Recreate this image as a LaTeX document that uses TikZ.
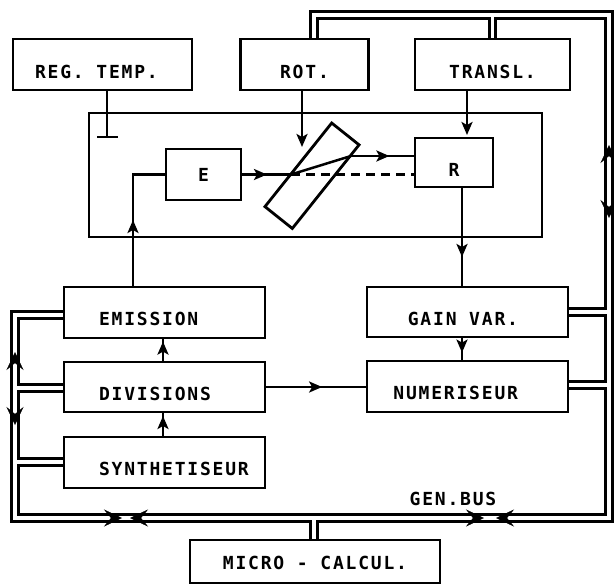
\documentclass[tikz,border=0pt]{standalone}
\usepackage{fontspec}
\newfontfamily\lettering[LetterSpace=10]{DejaVu Sans Mono Bold}
\usetikzlibrary{arrows.meta,backgrounds,decorations.markings}
\tikzset{
  pipehead/.tip={Stealth[length=18pt,width=17pt,inset=7pt]},
  sighead/.tip={Stealth[length=13pt,width=11pt,inset=3pt]},
}
\begin{document}
\begin{tikzpicture}[x=1pt,y=-1pt,
  every node/.style={font=\lettering\fontsize{18}{18}\selectfont, inner sep=0pt, outer sep=0pt},
  blk/.style={draw, line width=2.8pt, fill=white, text height=#1, text depth=0pt},
  blk/.default=26pt,
  sig/.style={line width=2.5pt},
  endarr/.style={-{sighead}},
  midarr/.style={postaction={decorate}, decoration={markings, mark=at position #1 with {\arrow{sighead}}}},
  midarr/.default=0.5,
  pipeout/.style={line width=9.4pt, line join=miter, line cap=butt},
  pipein/.style={line width=3.8pt, white, line join=miter, line cap=butt},
]
\useasboundingbox (0,0) rectangle (614,584);

% ---- top blocks
\node[blk=27pt, minimum width=179pt, minimum height=51pt] (reg) at (102.5,64.5) {\makebox[135pt][l]{REG. TEMP.}};
\node[blk=27pt, minimum width=128pt, minimum height=51pt] (rot) at (304.5,64.5) {ROT.};
\node[blk=27pt, minimum width=155pt, minimum height=51pt] (transl) at (492.5,64.5) {TRANSL.};

% ---- optical bench
\node[draw, line width=2.8pt, minimum width=453pt, minimum height=124pt] (frame) at (315.5,175) {};
\node[blk=13.1pt, minimum width=75pt, minimum height=51pt] (e) at (203.5,174.5) {E};
\node[blk=27pt, minimum width=78pt, minimum height=49pt] (r) at (454,162.5) {R};
\node[draw, line width=2.8pt, minimum width=107pt, minimum height=35pt, rotate=51.4] (plate) at (312,175.75) {};

% ---- lower blocks
\node[blk, minimum width=201pt, minimum height=51pt] (emission) at (164.5,312.5) {\makebox[131pt][l]{EMISSION}};
\node[blk, minimum width=201pt, minimum height=50pt] (div) at (164.5,387) {\makebox[131pt][l]{DIVISIONS}};
\node[blk, minimum width=201pt, minimum height=51pt] (syn) at (164.5,462.5) {\makebox[131pt][l]{SYNTHETISEUR}};
\node[blk, minimum width=201pt, minimum height=50pt] (gain) at (467.5,312) {\makebox[101pt][r]{GAIN VAR.}};
\node[blk, minimum width=201pt, minimum height=51pt] (num) at (467.5,386.5) {\makebox[101pt][r]{NUMERISEUR}};
\node[blk=16pt, minimum width=250pt, minimum height=43pt] (micro) at (315,561.5) {MICRO - CALCUL.};
\node[text height=13.1pt, text depth=0pt] (busname) at (453,499) {GEN.BUS};

% ---- bus network (double lines)
\coordinate (tb1) at (314,15);
\coordinate (tb2) at (609,15);
\coordinate (bb2) at (609,518);
\coordinate (bb1) at (15,518);
\coordinate (lp1) at (15,315);
\coordinate (tbt) at (492.5,15);
\coordinate (rpg) at (609,312);
\coordinate (rpn) at (609,385);
\coordinate (lpd) at (15,388);
\coordinate (lps) at (15,462);
\coordinate (bm) at (314,518);

\begin{scope}[on background layer]
  \draw[pipeout] (tb1 |- rot.north) -- (tb1) -- (tb2) -- (bb2) -- (bb1) -- (lp1) -- (lp1 -| emission.west);
  \draw[pipeout] (tbt) -- (tbt |- transl.north);
  \draw[pipeout] (rpg) -- (rpg -| gain.east);
  \draw[pipeout] (rpn) -- (rpn -| num.east);
  \draw[pipeout] (lpd) -- (lpd -| div.west);
  \draw[pipeout] (lps) -- (lps -| syn.west);
  \draw[pipeout] (bm) -- (bm |- micro.north);
  \draw[pipein] (tb1 |- rot.north) -- (tb1) -- (tb2) -- (bb2) -- (bb1) -- (lp1) -- (lp1 -| emission.west);
  \draw[pipein] (tbt) -- (tbt |- transl.north);
  \draw[pipein] (rpg) -- (rpg -| gain.east);
  \draw[pipein] (rpn) -- (rpn -| num.east);
  \draw[pipein] (lpd) -- (lpd -| div.west);
  \draw[pipein] (lps) -- (lps -| syn.west);
  \draw[pipein] (bm) -- (bm |- micro.north);
  % direction marks on the bus
  \path[decoration={markings,
      mark=at position 130pt with {\arrowreversed{pipehead}},
      mark=at position 203pt with {\arrow{pipehead}}}, decorate] (tb2) -- (bb2);
  \path[decoration={markings,
      mark=at position 113pt with {\arrow{pipehead}},
      mark=at position 125pt with {\arrowreversed{pipehead}},
      mark=at position 479pt with {\arrow{pipehead}},
      mark=at position 487pt with {\arrowreversed{pipehead}}}, decorate] (bb2) -- (bb1);
  \path[decoration={markings,
      mark=at position 93pt with {\arrowreversed{pipehead}},
      mark=at position 166pt with {\arrow{pipehead}}}, decorate] (bb1) -- (lp1);
\end{scope}

% ---- signal lines
\coordinate (tbar) at (107,138);
\coordinate (rottip) at (302,147);
\coordinate (trx) at (467,100);
\coordinate (emx) at (133,174.5);
\coordinate (p1) at (291,174.5);
\coordinate (p2) at (351,156);
\coordinate (rdn) at (462,200);
\coordinate (cx) at (163,400);

\draw[sig, -{Bar[width=21pt]}] (reg.south -| tbar) -- (tbar);
\draw[sig, endarr] (rot.south -| rottip) -- (rottip);
\draw[sig, endarr, shorten >=3pt] (transl.south -| trx) -- (r.north -| trx);
\draw[sig, midarr=67pt] (emission.north -| emx) -- (emx) -- (e.west);
\draw[sig, midarr=0.52] (e.east) -- (p1);
\draw[sig] (p1) -- (p2);
\draw[sig, midarr=0.6] (p2) -- (r.west |- p2);
\draw[sig, dash pattern=on 9pt off 6pt] (p1) -- (r.west |- p1);
\draw[sig, midarr=0.7] (r.south -| rdn) -- (gain.north -| rdn);
\draw[sig, midarr=0.65] (gain.south -| rdn) -- (num.north -| rdn);
\draw[sig, midarr=0.85] (div.north -| cx) -- (emission.south -| cx);
\draw[sig, midarr=0.84] (syn.north -| cx) -- (div.south -| cx);
\draw[sig, midarr=0.56] (div.east) -- (div.east -| num.west);
\end{tikzpicture}
\end{document}
